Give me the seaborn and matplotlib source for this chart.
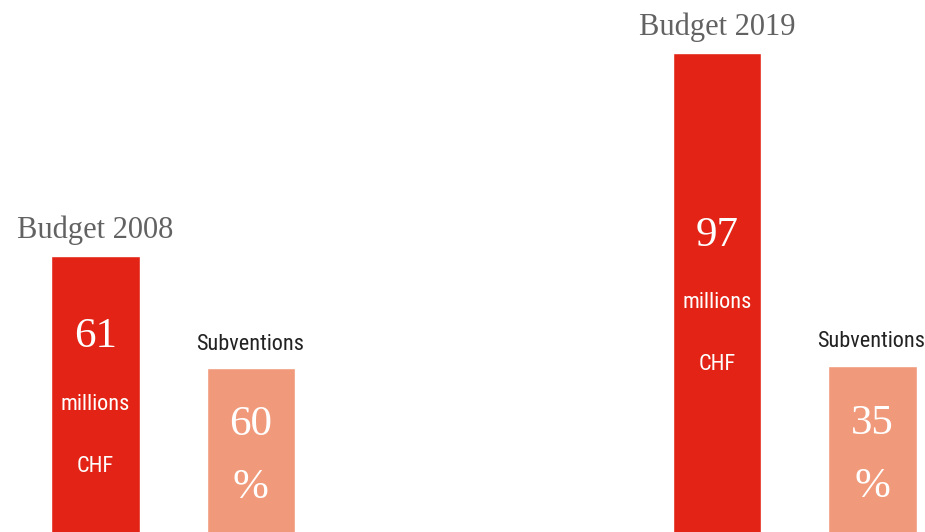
import os

import matplotlib
matplotlib.use("Agg")

import matplotlib.pyplot as plt
from matplotlib import font_manager as fm
from matplotlib.textpath import TextPath
import pandas as pd
import seaborn as sns

# data
years = ["2008", "2019"]
budget_millions = [61, 97]
subsidy_percent = [60, 35]
# subsidy bars are not drawn to scale in the original, heights estimated
subsidy_bar_height = [41.1, 41.5]

red = "#E32315"
salmon = "#F19A7B"
serif = ["Liberation Serif", "DejaVu Serif"]

slots = ["b2008", "s2008", "gap1", "gap2", "b2019", "s2019"]

df = pd.DataFrame({
    "slot": ["b2008", "s2008", "b2019", "s2019"],
    "height": [budget_millions[0], subsidy_bar_height[0],
               budget_millions[1], subsidy_bar_height[1]],
    "kind": ["budget", "subsidy", "budget", "subsidy"],
})


def narrow_font():
    # the original uses a condensed sans, pick the closest one installed
    wanted = [
        "robotocondensed-regular", "roboto_condensed-regular",
        "notosans-condensed.", "notosans-semicondensed.",
        "opensans_condensed-regular", "opensans-condensedregular",
        "liberationsansnarrow-regular", "dejavusanscondensed.",
    ]
    files = [f.fname for f in fm.fontManager.ttflist]
    for key in wanted:
        for path in files:
            if key in os.path.basename(path).lower():
                return fm.FontProperties(fname=path)
    return fm.FontProperties(family="Roboto")


def main():
    sns.set_theme(style="white")

    fig = plt.figure(figsize=(9.25, 5.32), dpi=100)
    ax = fig.add_axes([0, 0, 1, 1])

    sns.barplot(
        data=df, x="slot", y="height", hue="kind", order=slots,
        palette={"budget": red, "subsidy": salmon},
        width=0.57, saturation=1, legend=False, ax=ax,
    )

    ylow, yhigh = 12.06, 106.4
    ax.set_xlim(-0.615, 5.339)
    ax.set_ylim(ylow, yhigh)
    ax.axis("off")

    nprop = narrow_font()
    # size it so "Subventions" is about 106 px wide like the original
    w = TextPath((0, 0), "Subventions", size=10, prop=nprop).get_extents().width
    nsize = min(17, 10 * 106 / (w * 100 / 72))
    nprop.set_size(nsize)

    for i, year in enumerate(years):
        bx = slots.index("b" + year)
        sx = slots.index("s" + year)
        top = budget_millions[i]
        stop = subsidy_bar_height[i]

        # title above budget bar
        ax.annotate(f"Budget {year}", (bx, top), xytext=(0, 26),
                    textcoords="offset pixels", ha="center", va="center",
                    fontsize=22, color="#626262", family=serif)

        # text stacked inside budget bar
        mid = (top + ylow) / 2
        ax.annotate(str(top), (bx, mid), xytext=(0, 57),
                    textcoords="offset pixels", ha="center", va="center",
                    fontsize=31, color="white", family=serif)
        ax.annotate("millions", (bx, mid), xytext=(0, -10),
                    textcoords="offset pixels", ha="center", va="center",
                    color="white", fontproperties=nprop)
        ax.annotate("CHF", (bx, mid), xytext=(0, -72),
                    textcoords="offset pixels", ha="center", va="center",
                    color="white", fontproperties=nprop)

        # subsidy bar
        ax.annotate("Subventions", (sx, stop), xytext=(-1, 24),
                    textcoords="offset pixels", ha="center", va="center",
                    color="#222222", fontproperties=nprop)
        smid = (stop + ylow) / 2
        ax.annotate(str(subsidy_percent[i]), (sx, smid), xytext=(0, 25),
                    textcoords="offset pixels", ha="center", va="center",
                    fontsize=31, color="white", family=serif)
        ax.annotate("%", (sx, smid), xytext=(0, -38),
                    textcoords="offset pixels", ha="center", va="center",
                    fontsize=31, color="white", family=serif)

    fig.savefig("out.png", dpi=100)
    plt.close(fig)


if __name__ == "__main__":
    main()
